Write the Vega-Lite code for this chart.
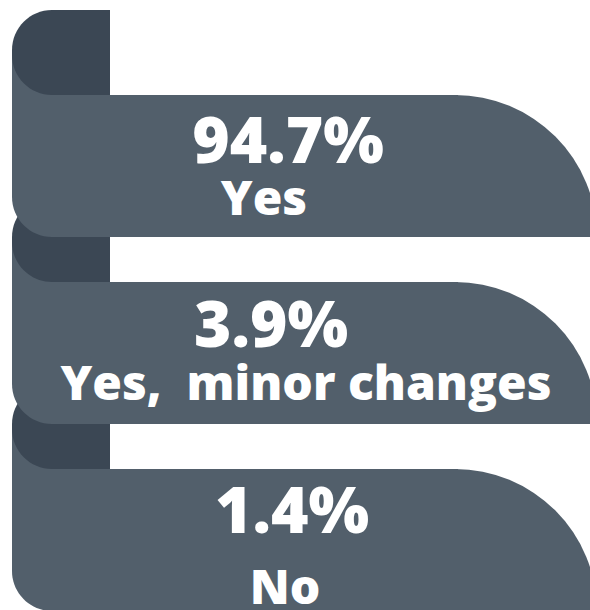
{
  "$schema": "https://vega.github.io/schema/vega-lite/v6.json",
  "width": 590,
  "height": 610,
  "autosize": "none",
  "padding": 0,
  "background": "white",
  "config": {"view": {"stroke": null}, "axis": {"disable": true}},
  "data": {"values": [
    {"answer": "Yes", "share": 0.947},
    {"answer": "Yes, \u00a0minor changes", "share": 0.039},
    {"answer": "No", "share": 0.014}
  ]},
  "layer": [
    {
      "mark": {"type": "rect", "color": "#525f6b"},
      "encoding": {
        "y": {"field": "answer", "type": "nominal", "scale": {"domain": ["Yes", "Yes, \u00a0minor changes", "No"], "range": [50, 469], "paddingInner": 0.7594, "paddingOuter": 0}},
        "x": {"datum": 12, "type": "quantitative", "scale": {"domain": [0, 590], "range": [0, 590], "nice": false, "zero": false}},
        "x2": {"datum": 110}
      }
    },
    {
      "mark": {"type": "rect", "color": "#3b4754", "cornerRadiusTopLeft": 40, "cornerRadiusBottomLeft": 40},
      "encoding": {
        "y": {"field": "answer", "type": "nominal", "scale": {"domain": ["Yes", "Yes, \u00a0minor changes", "No"], "range": [10, 469], "paddingInner": 0.5455, "paddingOuter": 0}},
        "x": {"datum": 12, "type": "quantitative"},
        "x2": {"datum": 110}
      }
    },
    {
      "encoding": {
        "y": {"field": "answer", "type": "nominal", "scale": {"domain": ["Yes", "Yes, \u00a0minor changes", "No"], "range": [95, 611], "paddingInner": 0.2406, "paddingOuter": 0}}
      },
      "layer": [
        {
          "mark": {"type": "rect", "color": "#525f6b", "cornerRadiusBottomLeft": 40},
          "encoding": {
            "x": {"datum": 12, "type": "quantitative"},
            "x2": {"datum": 458}
          }
        },
        {
          "mark": {"type": "arc", "color": "#525f6b", "radius": 142, "theta": 0, "theta2": 1.5708, "clip": true},
          "encoding": {
            "x": {"datum": 455, "type": "quantitative"},
            "y": {"field": "answer", "type": "nominal", "bandPosition": 1}
          }
        },
        {
          "transform": [{"filter": "datum.answer === 'Yes'"}],
          "mark": {"type": "text", "font": "Open Sans", "fontWeight": 800, "fontSize": 64, "color": "white", "align": "center", "baseline": "alphabetic"},
          "encoding": {
            "x": {"datum": 288, "type": "quantitative"},
            "y": {"field": "answer", "type": "nominal", "bandPosition": 0.479},
            "text": {"field": "share", "type": "quantitative", "format": ".1%"}
          }
        },
        {
          "transform": [{"filter": "datum.answer === 'Yes'"}],
          "mark": {"type": "text", "font": "Open Sans", "fontWeight": 800, "fontSize": 48, "color": "white", "align": "center", "baseline": "alphabetic"},
          "encoding": {
            "x": {"datum": 264, "type": "quantitative"},
            "y": {"field": "answer", "type": "nominal", "bandPosition": 0.845},
            "text": {"field": "answer", "type": "nominal"}
          }
        },
        {
          "transform": [{"filter": "datum.share === 0.039"}],
          "mark": {"type": "text", "font": "Open Sans", "fontWeight": 800, "fontSize": 64, "color": "white", "align": "center", "baseline": "alphabetic"},
          "encoding": {
            "x": {"datum": 271, "type": "quantitative"},
            "y": {"field": "answer", "type": "nominal", "bandPosition": 0.458},
            "text": {"field": "share", "type": "quantitative", "format": ".1%"}
          }
        },
        {
          "transform": [{"filter": "datum.share === 0.039"}],
          "mark": {"type": "text", "font": "Open Sans", "fontWeight": 800, "fontSize": 48, "color": "white", "align": "center", "baseline": "alphabetic"},
          "encoding": {
            "x": {"datum": 306, "type": "quantitative"},
            "y": {"field": "answer", "type": "nominal", "bandPosition": 0.831},
            "text": {"field": "answer", "type": "nominal"}
          }
        },
        {
          "transform": [{"filter": "datum.answer === 'No'"}],
          "mark": {"type": "text", "font": "Open Sans", "fontWeight": 800, "fontSize": 64, "color": "white", "align": "center", "baseline": "alphabetic"},
          "encoding": {
            "x": {"datum": 292, "type": "quantitative"},
            "y": {"field": "answer", "type": "nominal", "bandPosition": 0.451},
            "text": {"field": "share", "type": "quantitative", "format": ".1%"}
          }
        },
        {
          "transform": [{"filter": "datum.answer === 'No'"}],
          "mark": {"type": "text", "font": "Open Sans", "fontWeight": 800, "fontSize": 48, "color": "white", "align": "center", "baseline": "alphabetic"},
          "encoding": {
            "x": {"datum": 285, "type": "quantitative"},
            "y": {"field": "answer", "type": "nominal", "bandPosition": 0.952},
            "text": {"field": "answer", "type": "nominal"}
          }
        }
      ]
    }
  ],
  "resolve": {"scale": {"y": "independent"}}
}
